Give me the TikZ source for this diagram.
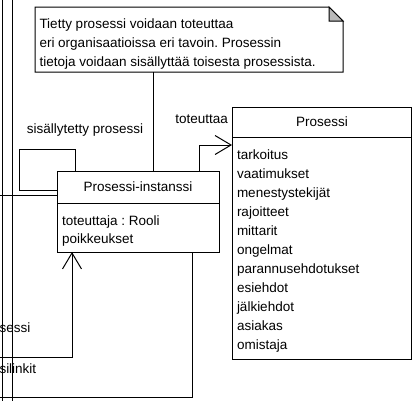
\documentclass[tikz,border=0pt]{standalone}
\usepackage{fontspec}
\setmainfont{Liberation Sans}
\usetikzlibrary{arrows.meta,calc}
\frenchspacing
\begin{document}
\begin{tikzpicture}[x=1pt,y=-1pt,
  every node/.style={inner sep=0pt,outer sep=0pt,font=\fontsize{13.5}{19}\selectfont},
  umlbox/.style={draw=black,line width=1pt,fill=white,rectangle,anchor=north west},
  ln/.style={line width=1pt,draw=black},
  opentip/.style={-{Straight Barb[length=16pt,width=19pt,line width=1pt]}},
  txtw/.style={anchor=base west},
  txtc/.style={anchor=base},
  txte/.style={anchor=base east},
]
\useasboundingbox (0,0) rectangle (413,400);
\clip (0,0) rectangle (413,400);

% left edge lines
\coordinate (v1t) at (2,-5);   \coordinate (v1b) at (2,405);
\coordinate (v2t) at (12.3,-5); \coordinate (v2b) at (12.3,405);
\draw[ln] (v1t) -- (v1b);
\draw[ln] (v2t) -- (v2b);

% boxes
\node[umlbox,minimum width=162pt,minimum height=81pt] (pi) at (57,171) {};
\node[umlbox,minimum width=179pt,minimum height=252pt] (pr) at (232,107) {};
\draw[ln] ($(pi.north west)+(0,32)$) -- ($(pi.north east)+(0,32)$);
\draw[ln] ($(pr.north west)+(0,30)$) -- ($(pr.north east)+(0,30)$);

\node[txtc] (pititle) at (138,191.5) {Prosessi-instanssi};
\node[txtw] (pia1) at (62,225) {toteuttaja : Rooli};
\node[txtw] (pia2) at (62,243.5) {poikkeukset};

\node[txtc] (prtitle) at (322,126.5) {Prosessi};
\foreach \t [count=\i from 0] in {tarkoitus,vaatimukset,menestystekijät,rajoitteet,mittarit,ongelmat,parannusehdotukset,esiehdot,jälkiehdot,asiakas,omistaja}
  \node[txtw] (pra\i) at (237,159.5+19*\i) {\t};

% note
\node[anchor=north west,minimum width=308pt,minimum height=65pt] (note) at (35,7) {};
\draw[ln,fill=white] (note.north west) -- ($(note.north east)+(-14,0)$) -- ($(note.north east)+(0,14)$) -- (note.south east) -- (note.south west) -- cycle;
\draw[ln,fill=gray!55] ($(note.north east)+(-14,0)$) -- ($(note.north east)+(-14,14)$) -- ($(note.north east)+(0,14)$) -- cycle;
\node[txtw] (n1) at (39.5,28.5) {Tietty prosessi voidaan toteuttaa};
\node[txtw] (n2) at (39.5,47.5) {eri organisaatioissa eri tavoin. Prosessin};
\node[txtw] (n3) at (39.5,66.5) {tietoja voidaan sisällyttää toisesta prosessista.};

% note anchor line
\draw[ln] ($(note.south west)+(118,0)$) -- ($(pi.north west)+(96,0)$);

% self loop
\draw[ln] ($(pi.north west)+(0,19)$) -| (19,149) -| ($(pi.north west)+(18,0)$);
\node[txtc] (lsis) at (85,133.5) {sisällytetty prosessi};

% toteuttaa
\draw[ln,opentip] ($(pi.north east)+(-20,0)$) |- ($(pr.north west)+(0,38)$);
\node[txte] (ltot) at (228,123.5) {toteuttaa};

% left line at 195
\coordinate (l0) at (-5,195);
\draw[ln] (l0) -- ($(pi.north west)+(0,24)$);

% bottom arrow
\coordinate (l1) at (-5,357);
\draw[ln,opentip] (l1) -| ($(pi.south west)+(15,0)$);
\node[txtw] (lses) at (-0.5,332.5) {sessi};
\node[txtw] (lsil) at (-0.5,373) {silinkit};

% bottom line
\coordinate (l2) at (-5,397);
\draw[ln] ($(pi.south east)+(-27,0)$) |- (l2);
\end{tikzpicture}
\end{document}
